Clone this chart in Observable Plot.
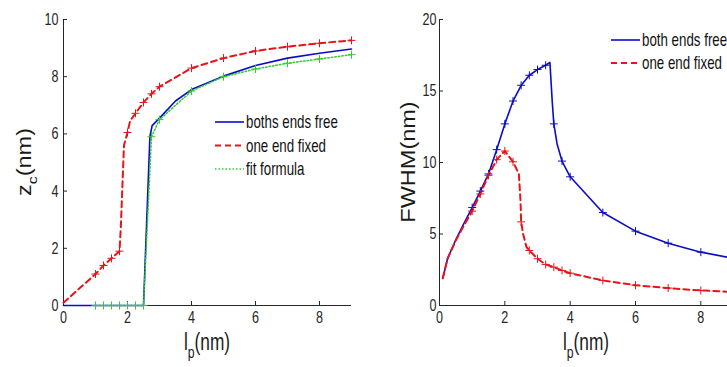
<!DOCTYPE html>
<html><head><meta charset="utf-8">
<script src="https://cdn.jsdelivr.net/npm/d3@7"></script>
<script src="https://cdn.jsdelivr.net/npm/@observablehq/plot@0.6"></script>
<style>
body{margin:0;background:#fff;}
#wrap{position:relative;width:727px;height:367px;overflow:hidden;background:#fff;}
#wrap svg{position:absolute;top:0;}
</style></head><body><div id="wrap"></div>
<script>
// ---------- Left panel: z_c (nm) vs l_p (nm) ----------
const zXTicks = [0, 2, 4, 6, 8];
const zYTicks = [0, 2, 4, 6, 8, 10];
const zFreeX  = [0, 2.5, 2.7, 2.77, 3, 3.5, 4, 5, 6, 7, 8, 9];
const zFreeY  = [0, 0, 5.9, 6.29, 6.55, 7.15, 7.55, 8.02, 8.39, 8.65, 8.82, 8.97];
const zFixedX = [0, 1, 1.25, 1.5, 1.75, 1.79, 1.89, 2, 2.08, 2.25, 2.5, 2.75, 3, 4, 5, 6, 7, 8, 9];
const zFixedY = [0.1, 1.1, 1.4, 1.65, 1.9, 2.7, 5.6, 6.05, 6.45, 6.72, 7.1, 7.4, 7.65, 8.3, 8.65, 8.9, 9.05, 9.17, 9.27];
const zFixedMarkX = [1, 1.25, 1.5, 1.75, 2, 2.25, 2.5, 2.75, 3, 4, 5, 6, 7, 8, 9];
const zFitX = [1, 1.25, 1.5, 1.75, 2, 2.25, 2.5, 2.75, 3, 4, 5, 6, 7, 8, 9];
const zFitY = [0, 0, 0, 0, 0, 0, 0, 5.9, 6.5, 7.5, 8.0, 8.27, 8.47, 8.62, 8.77];
const zLegend = ["boths ends free", "one end fixed", "fit formula"];

// ---------- Right panel: FWHM (nm) vs l_p (nm) ----------
const wXTicks = [0, 2, 4, 6, 8];
const wYTicks = [0, 5, 10, 15, 20];
const wFreeX  = [0.1, 0.25, 0.5, 0.75, 1, 1.25, 1.5, 1.75, 2, 2.25, 2.5, 2.75, 3, 3.25, 3.38, 3.45, 3.5, 3.6, 3.75, 4, 5, 6, 7, 8, 9];
const wFreeY  = [1.9, 3.3, 4.6, 5.75, 6.85, 8.0, 9.2, 10.9, 12.7, 14.3, 15.4, 16.1, 16.5, 16.8, 17.0, 14.3, 12.7, 11.3, 10.1, 9.0, 6.5, 5.2, 4.36, 3.73, 3.3];
const wFreeMarkX = [1, 1.25, 1.5, 1.75, 2, 2.25, 2.5, 2.75, 3, 3.25, 3.5, 3.75, 4, 5, 6, 7, 8];
const wFixedX = [0.1, 0.25, 0.5, 0.75, 1, 1.25, 1.5, 1.75, 2, 2.25, 2.43, 2.48, 2.5, 2.56, 2.66, 2.75, 3, 3.25, 3.5, 3.75, 4, 5, 6, 7, 8, 9];
const wFixedY = [1.9, 3.3, 4.55, 5.6, 6.6, 7.8, 9.1, 10.2, 10.8, 10.05, 9.2, 7.3, 5.85, 5.0, 4.1, 3.85, 3.27, 2.87, 2.68, 2.45, 2.26, 1.75, 1.42, 1.22, 1.05, 0.95];
const wFixedMarkX = [1, 1.25, 1.5, 1.75, 2, 2.25, 2.5, 2.75, 3, 3.25, 3.5, 3.75, 4, 5, 6, 7, 8];
const wLegend = ["both ends free", "one end fixed"];

const BLUE = "#0c0cc8", RED = "#e8141a", GREEN = "#2ecc2e", AX = "#262626";
const FONT = "Arial, 'Liberation Sans', Helvetica, sans-serif";
const SX = 0.74;

const pts = (xs, ys) => xs.map((x, i) => ({x, y: ys[i]}));
const marks = (xs, ys, mx) => pts(xs, ys).filter(d => mx.includes(d.x));

function squeeze(svg) {
  d3.select(svg).selectAll("text").each(function () {
    const t = d3.select(this);
    const x = +(t.attr("x") || 0);
    const tr = t.attr("transform") || "";
    t.attr("transform", `${tr} translate(${x},0) scale(${SX},1) translate(${-x},0)`);
  });
}

function axesMarks(xDom, yDom, xTicks, yTicks, yPad, xPx) {
  const tlY = 4 * (yDom[1] - yDom[0]) / 286;
  const tlX = 4 * (xDom[1] - xDom[0]) / xPx;
  return [
    Plot.ruleY([yDom[0]], {x1: xDom[0], x2: xDom[1], stroke: AX, strokeWidth: 1}),
    Plot.ruleX([xDom[0]], {y1: yDom[0], y2: yDom[1], stroke: AX, strokeWidth: 1}),
    Plot.ruleX(xTicks, {x: d => d, y1: yDom[0], y2: yDom[0] + tlY, stroke: AX, strokeWidth: 1}),
    Plot.ruleY(yTicks, {y: d => d, x1: xDom[0], x2: xDom[0] + tlX, stroke: AX, strokeWidth: 1}),
    Plot.axisX({ticks: xTicks, tickSize: 0, tickPadding: 5, fontSize: 17, label: null, tickFormat: d => String(d), fill: AX}),
    Plot.axisY({ticks: yTicks, tickSize: 0, tickPadding: yPad, fontSize: 17, label: null, tickFormat: d => String(d), fill: AX})
  ];
}

const zDom = [0, 9], zYDom = [0, 10];
const wDom = [0, 9], wYDom = [0, 20];

const left = Plot.plot({
  width: 360, height: 367, marginLeft: 63, marginRight: 9, marginTop: 19, marginBottom: 62,
  x: {domain: zDom}, y: {domain: zYDom},
  style: {fontFamily: FONT, background: "transparent", overflow: "visible"},
  marks: [
    ...axesMarks(zDom, zYDom, zXTicks, zYTicks, 5, 288),
    Plot.line(pts(zFreeX, zFreeY), {x: "x", y: "y", stroke: BLUE, strokeWidth: 1.6}),
    Plot.line(pts(zFixedX, zFixedY), {x: "x", y: "y", stroke: RED, strokeWidth: 2, strokeDasharray: "6,4"}),
    Plot.line(pts(zFitX, zFitY), {x: "x", y: "y", stroke: GREEN, strokeWidth: 1.5, strokeDasharray: "1.5,2"}),
    Plot.dot(marks(zFixedX, zFixedY, zFixedMarkX), {x: "x", y: "y", symbol: "plus", r: 2.7, stroke: RED, strokeWidth: 1}),
    Plot.dot(pts(zFitX, zFitY), {x: "x", y: "y", symbol: "plus", r: 2.7, stroke: GREEN, strokeWidth: 1})
  ]
});

const right = Plot.plot({
  width: 373, height: 367, marginLeft: 79, marginRight: 0, marginTop: 19, marginBottom: 62,
  x: {domain: wDom}, y: {domain: wYDom},
  style: {fontFamily: FONT, background: "transparent", overflow: "visible"},
  marks: [
    ...axesMarks(wDom, wYDom, wXTicks, wYTicks, 3, 294),
    Plot.line(pts(wFreeX, wFreeY), {x: "x", y: "y", stroke: BLUE, strokeWidth: 1.6}),
    Plot.line(pts(wFixedX, wFixedY), {x: "x", y: "y", stroke: RED, strokeWidth: 2, strokeDasharray: "6,4"}),
    Plot.dot(marks(wFreeX, wFreeY, wFreeMarkX), {x: "x", y: "y", symbol: "plus", r: 2.7, stroke: BLUE, strokeWidth: 1}),
    Plot.dot(marks(wFixedX, wFixedY, wFixedMarkX), {x: "x", y: "y", symbol: "plus", r: 2.7, stroke: RED, strokeWidth: 1})
  ]
});

squeeze(left); squeeze(right);

function xLabel(svg, cx) {
  const t = d3.select(svg).append("text").attr("font-family", FONT).attr("fill", "#1a1a1a")
    .attr("font-size", 24).attr("text-anchor", "middle")
    .attr("transform", `translate(${cx},350) scale(0.72,1)`);
  t.append("tspan").text("l");
  t.append("tspan").attr("font-size", 17).attr("dy", 8).text("p");
  t.append("tspan").attr("dy", -8).text("(nm)");
}
function yLabel(svg, bx, cy, parts) {
  const t = d3.select(svg).append("text").attr("font-family", FONT).attr("fill", "#1a1a1a")
    .attr("font-size", 23.5).attr("text-anchor", "middle")
    .attr("transform", `translate(${bx},${cy}) scale(0.85,1) rotate(-90)`);
  parts.forEach(([s, sub]) => {
    const ts = t.append("tspan").text(s);
    if (sub === 1) ts.attr("font-size", 16).attr("dy", 7);
    if (sub === -1) ts.attr("dy", -7);
  });
}
function legend(svg, x0, y0, step, items) {
  const g = d3.select(svg).append("g");
  items.forEach(([label, color, dash, w], i) => {
    const y = y0 + i * step;
    g.append("line").attr("x1", x0).attr("x2", x0 + 29).attr("y1", y).attr("y2", y)
      .attr("stroke", color).attr("stroke-width", w).attr("stroke-dasharray", dash);
    g.append("text").attr("font-family", FONT).attr("font-size", 18).attr("fill", "#111")
      .attr("text-anchor", "start")
      .attr("transform", `translate(${x0 + 31},${y + 6}) scale(${SX},1)`).text(label);
  });
}

const lx = left.scale("x"), ly = left.scale("y");
const rx = right.scale("x"), ry = right.scale("y");
xLabel(left, lx.apply(4.5));
xLabel(right, rx.apply(4.5));
yLabel(left, 31, ly.apply(5), [["z", 0], ["c", 1], ["(nm)", -1]]);
yLabel(right, 55, ry.apply(10), [["FWHM(nm)", 0]]);
legend(left, 215, 122, 23.5, [[zLegend[0], BLUE, null, 1.6], [zLegend[1], RED, "6,4", 2], [zLegend[2], GREEN, "1.5,2", 1.5]]);
legend(right, 251, 40, 23, [[wLegend[0], BLUE, null, 1.6], [wLegend[1], RED, "6,4", 2]]);

left.style.left = "0px";
right.style.left = "360px";
document.getElementById("wrap").append(left, right);
</script></body></html>
